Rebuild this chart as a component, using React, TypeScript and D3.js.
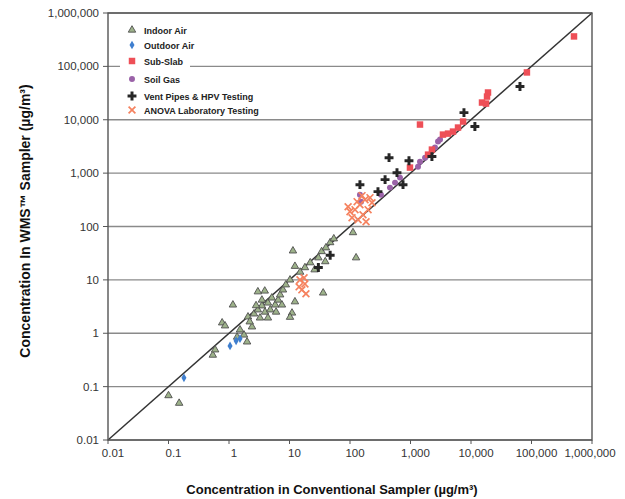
import React from "react";
import * as d3 from "d3";

// x = conventional sampler, y = WMS sampler (µg/m³)
const indoorX = [0.1, 0.15, 0.54, 0.59, 0.77, 0.86, 1.16, 1.36, 1.99, 1.77, 2.4, 3.0, 3.9, 11.4, 12.3, 11, 10.2, 36, 12.3, 112, 126,
  2.06, 2.2, 2.59, 3.0, 3.5, 3.25, 3.94, 4.4, 4.8, 5.1, 5.8, 6.5, 7.0, 7.8, 6.0, 4.4, 8.7, 10.2, 15, 18, 22, 26, 30, 34, 40, 47, 54, 39, 3.5, 2.8, 1.52, 7.5];
const indoorY = [0.068, 0.049, 0.39, 0.49, 1.57, 1.38, 3.4, 0.85, 0.69, 0.93, 1.32, 6.0, 6.2, 35, 18, 2.4, 2.0, 5.7, 3.9, 77, 26,
  2.03, 1.64, 2.31, 2.75, 3.27, 1.94, 2.5, 3.7, 2.75, 4.6, 3.4, 4.2, 5.25, 6.5, 2.5, 1.94, 8.1, 10, 14, 17, 21, 15.5, 26, 34, 40, 50, 59, 22, 4.2, 3.3, 1.16, 3.4];

const outdoorX = [0.18, 1.04, 1.52, 1.31];
const outdoorY = [0.146, 0.58, 0.79, 0.72];

const subSlabX = [504000, 84000, 19100, 18400, 15200, 17700, 7400, 5040, 4170, 3440, 1950, 980, 1435, 6100, 2260];
const subSlabY = [364000, 77000, 32400, 27200, 21000, 20100, 9250, 6000, 5500, 5270, 2220, 1270, 8130, 7140, 2760];

const soilGasX = [146, 152, 555, 670, 1330, 1435, 2540, 2850, 3080, 1740, 458, 325];
const soilGasY = [395, 292, 664, 824, 1320, 1640, 3010, 3900, 4250, 1950, 535, 395];

const ventX = [146, 442, 944, 47, 290, 598, 752, 2260, 7650, 11600, 64500, 380, 30];
const ventY = [608, 1950, 1710, 29, 450, 1020, 608, 2040, 13600, 7450, 42000, 755, 17];

const anovaX = [14.9, 18, 16, 18.7, 14.4, 17.4, 100, 121, 146, 177, 214, 108, 136, 164, 199, 231, 158, 93, 131, 184];
const anovaY = [10, 8.4, 6.5, 5.5, 7.4, 10.9, 190, 207, 256, 318, 347, 146, 134, 166, 207, 279, 378, 235, 292, 123];

const tickValues = [0.01, 0.1, 1, 10, 100, 1000, 10000, 100000, 1000000];
const tickLabels = ["0.01", "0.1", "1", "10", "100", "1,000", "10,000", "100,000", "1,000,000"];

const legendNames = ["Indoor Air", "Outdoor Air", "Sub-Slab", "Soil Gas", "Vent Pipes & HPV Testing", "ANOVA Laboratory Testing"];

const W = 625, H = 499;
const left = 108, right = 592, top = 13, bottom = 440;

const x = d3.scaleLog().domain([0.01, 1000000]).range([left, right]);
const y = d3.scaleLog().domain([0.01, 1000000]).range([bottom, top]);

const styles = [
  { sym: d3.symbolTriangle, size: 24, fill: "#9db28a", stroke: "#4f4f4f", sw: 0.9 },
  { sym: d3.symbolDiamond, size: 22, fill: "#3f7fcf", stroke: "none", sw: 0 },
  { sym: d3.symbolSquare, size: 42, fill: "#ee4f57", stroke: "none", sw: 0 },
  { sym: d3.symbolCircle, size: 28, fill: "#9a62a8", stroke: "none", sw: 0 },
  { sym: d3.symbolCross, size: 44, fill: "#262626", stroke: "none", sw: 0 },
  { sym: d3.symbolX, size: 32, fill: "none", stroke: "#f5825f", sw: 1.7 },
];

const series = [
  { xs: indoorX, ys: indoorY, s: 0 },
  { xs: outdoorX, ys: outdoorY, s: 1 },
  { xs: soilGasX, ys: soilGasY, s: 3 },
  { xs: subSlabX, ys: subSlabY, s: 2 },
  { xs: anovaX, ys: anovaY, s: 5 },
  { xs: ventX, ys: ventY, s: 4 },
];

const Marker = ({ s, tx, ty }: { s: number; tx: number; ty: number }) => {
  const st = styles[s];
  const d = d3.symbol(st.sym, st.size)() || "";
  return (
    <path d={d} transform={`translate(${tx},${ty})`} fill={st.fill} stroke={st.stroke} strokeWidth={st.sw} />
  );
};

export default function App() {
  const legendY = [30, 45, 61, 79, 96, 110];
  return (
    <svg width={W} height={H} style={{ position: "absolute", left: 0, top: 0, background: "#fff" }}
      fontFamily="'Liberation Sans', Arial, sans-serif">
      {/* gridlines */}
      {tickValues.map(t => (
        <line key={"g" + t} x1={left} x2={right} y1={y(t)} y2={y(t)} stroke="#8a8a8a" strokeWidth={1.4} />
      ))}
      {/* legend background */}
      <rect x={120} y={22} width={70} height={94} fill="#fff" />
      {/* 1:1 line */}
      <line x1={x(0.01)} y1={y(0.01)} x2={x(1000000)} y2={y(1000000)} stroke="#333" strokeWidth={1.5} />
      {/* frame */}
      <rect x={left} y={top} width={right - left} height={bottom - top} fill="none" stroke="#555" strokeWidth={1.4} />
      {/* y ticks */}
      {tickValues.map((t, i) => (
        <g key={"y" + t}>
          <line x1={left - 5} x2={left} y1={y(t)} y2={y(t)} stroke="#555" />
          <text x={left - 9} y={y(t) + 4} textAnchor="end" fontSize={11.5} fill="#333">{tickLabels[i]}</text>
        </g>
      ))}
      {/* x ticks */}
      {tickValues.map((t, i) => (
        <g key={"x" + t}>
          <line x1={x(t)} x2={x(t)} y1={bottom} y2={bottom + 4} stroke="#555" />
          <text x={Math.min(x(t) + 5, 590)} y={bottom + 17} textAnchor="middle" fontSize={11.5} fill="#333">{tickLabels[i]}</text>
        </g>
      ))}
      {/* points */}
      {series.map((se, k) => (
        <g key={"s" + k}>
          {se.xs.map((v, i) => (
            <Marker key={i} s={se.s} tx={x(v)} ty={y(se.ys[i])} />
          ))}
        </g>
      ))}
      {/* legend */}
      {legendNames.map((n, i) => (
        <g key={n}>
          <Marker s={i} tx={132} ty={legendY[i]} />
          <text x={144} y={legendY[i] + 3.5} fontSize={9} fontWeight="bold" fill="#222">{n}</text>
        </g>
      ))}
      {/* axis titles */}
      <text x={332} y={494} textAnchor="middle" fontSize={13} fontWeight="bold" fill="#111">
        Concentration in Conventional Sampler (µg/m³)
      </text>
      <text transform="translate(30,221) rotate(-90)" textAnchor="middle" fontSize={14} fontWeight="bold" fill="#111">
        Concentration In WMS™ Sampler (µg/m³)
      </text>
    </svg>
  );
}
